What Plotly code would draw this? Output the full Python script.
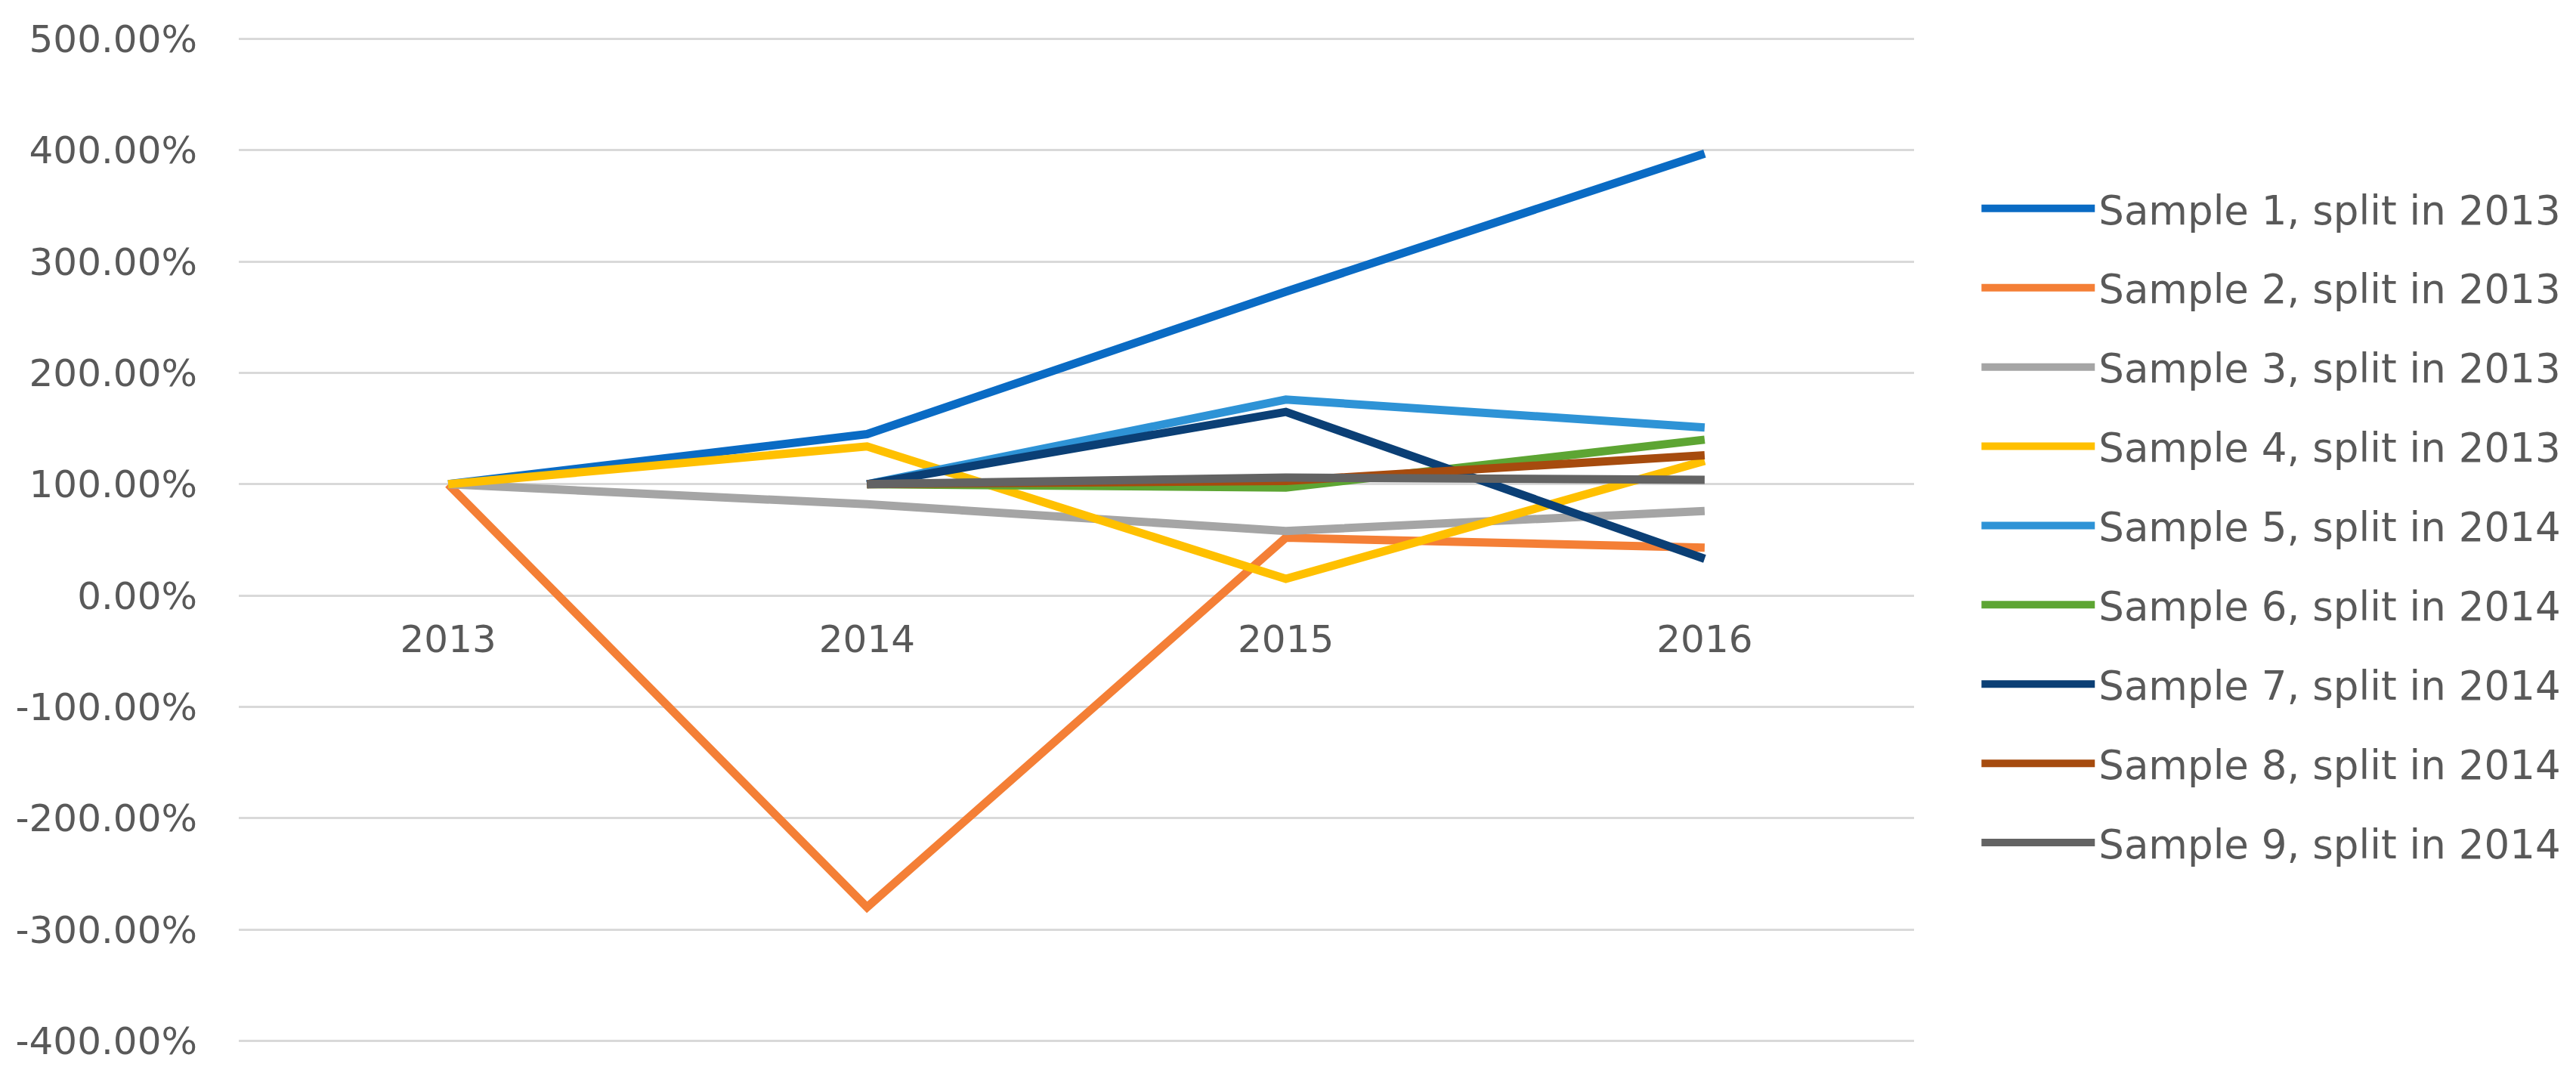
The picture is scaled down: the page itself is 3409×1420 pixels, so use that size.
import plotly.graph_objects as go

years = ["2013", "2014", "2015", "2016"]

series_names = [
    "Sample 1, split in 2013",
    "Sample 2, split in 2013",
    "Sample 3, split in 2013",
    "Sample 4, split in 2013",
    "Sample 5, split in 2014",
    "Sample 6, split in 2014",
    "Sample 7, split in 2014",
    "Sample 8, split in 2014",
    "Sample 9, split in 2014",
]

sample1 = [100, 145, 273, 397]
sample2 = [100, -280, 52, 43]
sample3 = [100, 82, 58, 76]
sample4 = [100, 134, 15, 121]
sample5 = [None, 100, 176, 151]
sample6 = [None, 100, 97, 140]
sample7 = [None, 100, 165, 33]
sample8 = [None, 100, 103, 126]
sample9 = [None, 100, 106, 104]

series_values = [sample1, sample2, sample3, sample4, sample5,
                 sample6, sample7, sample8, sample9]

colors = ["#0A6BC4", "#F47F36", "#A5A5A5", "#FFC000", "#2E93D6",
          "#5DA533", "#0B3F75", "#A64B0E", "#636363"]

y_tickvals = [-400, -300, -200, -100, 0, 100, 200, 300, 400, 500]
y_ticktext = ["-400.00%", "-300.00%", "-200.00%", "-100.00%", "0.00%",
              "100.00%", "200.00%", "300.00%", "400.00%", "500.00%"]

y_min, y_max = -401, 501

fig = go.Figure()
for i, (name, vals, col) in enumerate(zip(series_names, series_values, colors)):
    fig.add_trace(go.Scatter(
        x=years, y=vals, name=name, mode="lines",
        line=dict(color=col, width=11),
        legendgroup=str(i), connectgaps=False,
    ))

text_color = "#595959"
grid_color = "#D9D9D9"

fig.update_layout(
    width=3409, height=1420,
    margin=dict(l=303, r=884, t=42, b=49),
    paper_bgcolor="white", plot_bgcolor="white",
    font=dict(family="DejaVu Sans", color=text_color, size=50),
    showlegend=True,
    legend=dict(
        x=1.038, xanchor="left", y=0.514, yanchor="middle",
        font=dict(size=53, color=text_color, family="DejaVu Sans"),
        itemwidth=150, tracegroupgap=33,
        bgcolor="rgba(0,0,0,0)",
    ),
    xaxis=dict(
        type="category", range=[-0.5, 3.5],
        showgrid=False, zeroline=False, showline=False,
        anchor="free", position=(0 - y_min) / (y_max - y_min),
        ticks="", ticklabelstandoff=24,
        tickfont=dict(size=50, color=text_color),
    ),
    yaxis=dict(
        range=[y_min, y_max], tickvals=y_tickvals, ticktext=y_ticktext,
        showgrid=True, gridcolor=grid_color, gridwidth=3,
        zeroline=False, showline=False, ticks="",
        ticklabelstandoff=54,
        tickfont=dict(size=50, color=text_color),
    ),
)

fig.write_html("out.html")
